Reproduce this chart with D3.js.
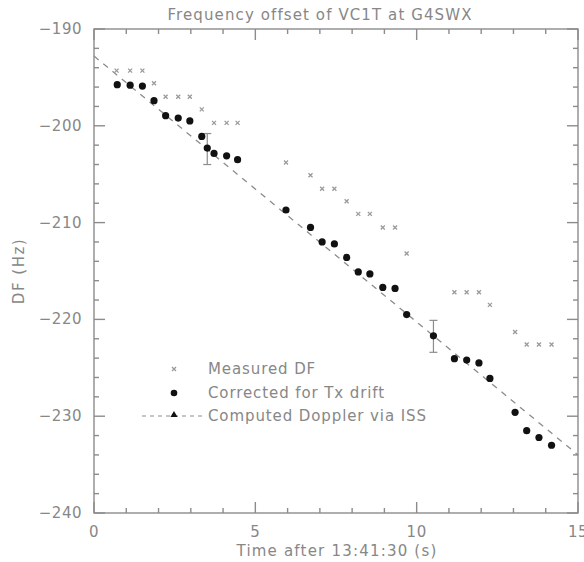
<!DOCTYPE html>
<html>
<head>
<meta charset="utf-8">
<script src="https://cdn.jsdelivr.net/npm/d3@7"></script>
<style>
  body { margin: 0; background: #fff; }
  text { font-family: "DejaVu Sans", sans-serif; fill: #878787; }
  .axis path, .axis line { stroke: #8c8c8c; stroke-width: 1.4; }
</style>
</head>
<body>
<main></main>
<script>
var w = 584;
var h = 562;
var margin = {top: 29, right: 6, bottom: 49, left: 94};

// measured DF (crosses)
var measuredT = [0.70, 1.12, 1.50, 1.86, 2.22, 2.61, 2.97, 3.34, 3.72, 4.11, 4.45, 5.95,
  6.71, 7.07, 7.45, 7.83, 8.19, 8.55, 8.95, 9.33, 9.69,
  11.17, 11.55, 11.93, 12.27, 13.05, 13.41, 13.79, 14.18];
var measuredDF = [-194.3, -194.3, -194.3, -195.6, -197.0, -197.0, -197.0, -198.3, -199.7, -199.7, -199.7, -203.8,
  -205.1, -206.5, -206.5, -207.8, -209.1, -209.1, -210.5, -210.5, -213.2,
  -217.2, -217.2, -217.2, -218.5, -221.3, -222.6, -222.6, -222.6];

// corrected for Tx drift (dots)
var correctedT = [0.72, 1.12, 1.50, 1.86, 2.22, 2.61, 2.97, 3.34, 3.51, 3.72, 4.11, 4.45, 5.95,
  6.71, 7.07, 7.45, 7.83, 8.19, 8.55, 8.95, 9.33, 9.69, 10.52,
  11.17, 11.55, 11.93, 12.27, 13.05, 13.41, 13.79, 14.18];
var correctedDF = [-195.75, -195.8, -195.9, -197.4, -198.95, -199.2, -199.5, -201.1, -202.3, -202.85, -203.1, -203.5, -208.7,
  -210.5, -212.0, -212.2, -213.6, -215.1, -215.3, -216.7, -216.8, -219.5, -221.7,
  -224.06, -224.2, -224.5, -226.1, -229.6, -231.5, -232.2, -233.0];

// error bars
var errT = [3.51, 10.52];
var errLo = [-204.0, -223.4];
var errHi = [-200.8, -220.1];

// computed Doppler via ISS
var dopplerT = [0, 15];
var dopplerDF = [-192.8, -234.0];

var xTicks = [0, 5, 10, 15];
var yTicks = [-190, -200, -210, -220, -230, -240];

var legendLabels = ["Measured DF", "Corrected for Tx drift", "Computed Doppler via ISS"];

var svg = d3.select("main").append("svg").attr("width", w).attr("height", h);

var xScale = d3.scaleLinear().domain([0, 15]).range([margin.left, w - margin.right]);
var yScale = d3.scaleLinear().domain([-240, -190]).range([h - margin.bottom, margin.top]);

var x0 = xScale(0), x1 = xScale(15), y0 = yScale(-240), y1 = yScale(-190);

// frame
svg.append("rect")
  .attr("x", x0).attr("y", y1)
  .attr("width", x1 - x0).attr("height", y0 - y1)
  .attr("fill", "none").attr("stroke", "#8c8c8c").attr("stroke-width", 1.4);

// ticks (inside, all four sides)
var ax = svg.append("g").attr("class", "axis");
d3.range(0, 15.01, 1).forEach(function (t) {
  var len = (t % 5 === 0) ? 11 : 5;
  ax.append("line").attr("x1", xScale(t)).attr("x2", xScale(t)).attr("y1", y0).attr("y2", y0 - len);
  ax.append("line").attr("x1", xScale(t)).attr("x2", xScale(t)).attr("y1", y1).attr("y2", y1 + len);
});
d3.range(-240, -189.99, 2).forEach(function (v) {
  var len = (v % 10 === 0) ? 11 : 5;
  ax.append("line").attr("x1", x0).attr("x2", x0 + len).attr("y1", yScale(v)).attr("y2", yScale(v));
  ax.append("line").attr("x1", x1).attr("x2", x1 - len).attr("y1", yScale(v)).attr("y2", yScale(v));
});

// tick labels
var fmt = d3.format("d");
svg.selectAll("text.xt").data(xTicks).enter().append("text")
  .attr("class", "xt")
  .attr("x", function (d) { return xScale(d); })
  .attr("y", y0 + 24)
  .attr("text-anchor", "middle")
  .attr("font-size", "15px")
  .attr("letter-spacing", "0.5px")
  .text(fmt);
svg.selectAll("text.yt").data(yTicks).enter().append("text")
  .attr("class", "yt")
  .attr("x", x0 - 12)
  .attr("y", function (d) { return yScale(d) + 5; })
  .attr("text-anchor", "end")
  .attr("font-size", "15px")
  .attr("letter-spacing", "0.5px")
  .text(fmt);

// titles
svg.append("text")
  .attr("x", 320).attr("y", 20)
  .attr("text-anchor", "middle").attr("font-size", "15px")
  .attr("letter-spacing", "1.1px")
  .text("Frequency offset of VC1T at G4SWX");
svg.append("text")
  .attr("x", 337).attr("y", 556)
  .attr("text-anchor", "middle").attr("font-size", "15px")
  .attr("letter-spacing", "1.2px")
  .text("Time after 13:41:30 (s)");
svg.append("text")
  .attr("transform", "translate(24," + ((y0 + y1) / 2) + ") rotate(-90)")
  .attr("text-anchor", "middle").attr("font-size", "15px")
  .attr("letter-spacing", "1.5px")
  .text("DF (Hz)");

// computed Doppler line
var line = d3.line()
  .x(function (d, i) { return xScale(dopplerT[i]); })
  .y(function (d) { return yScale(d); });
svg.append("path")
  .datum(dopplerDF)
  .attr("d", line)
  .attr("fill", "none")
  .attr("stroke", "#8c8c8c")
  .attr("stroke-width", 1.3)
  .attr("stroke-dasharray", "6,6");

// error bars
var eb = svg.append("g").attr("stroke", "#8c8c8c").attr("stroke-width", 1.2);
errT.forEach(function (t, i) {
  eb.append("line").attr("x1", xScale(t)).attr("x2", xScale(t)).attr("y1", yScale(errLo[i])).attr("y2", yScale(errHi[i]));
  eb.append("line").attr("x1", xScale(t) - 4).attr("x2", xScale(t) + 4).attr("y1", yScale(errLo[i])).attr("y2", yScale(errLo[i]));
  eb.append("line").attr("x1", xScale(t) - 4).attr("x2", xScale(t) + 4).attr("y1", yScale(errHi[i])).attr("y2", yScale(errHi[i]));
});

// measured crosses
function cross(g, cx, cy) {
  g.append("path")
    .attr("d", "M" + (cx - 2) + "," + (cy - 2) + "L" + (cx + 2) + "," + (cy + 2) +
      "M" + (cx - 2) + "," + (cy + 2) + "L" + (cx + 2) + "," + (cy - 2))
    .attr("stroke", "#9a9a9a").attr("stroke-width", 1.3);
}
var mg = svg.append("g");
measuredDF.forEach(function (v, i) { cross(mg, xScale(measuredT[i]), yScale(v)); });

// corrected dots
svg.selectAll("circle.corr").data(correctedDF).enter().append("circle")
  .attr("class", "corr")
  .attr("cx", function (d, i) { return xScale(correctedT[i]); })
  .attr("cy", function (d) { return yScale(d); })
  .attr("r", 3.6)
  .attr("fill", "#111");

// legend
var lx = 174, ly = [369, 393, 416];
cross(svg, lx, ly[0]);
svg.append("circle").attr("cx", lx).attr("cy", ly[1]).attr("r", 3.3).attr("fill", "#111");
svg.append("line").attr("x1", 142).attr("x2", 206).attr("y1", ly[2]).attr("y2", ly[2])
  .attr("stroke", "#8c8c8c").attr("stroke-width", 1.2).attr("stroke-dasharray", "4,4");
svg.append("path")
  .attr("d", d3.symbol().type(d3.symbolTriangle).size(22)())
  .attr("transform", "translate(" + lx + "," + (ly[2] - 1) + ")")
  .attr("fill", "#111");
legendLabels.forEach(function (s, i) {
  svg.append("text")
    .attr("x", 208).attr("y", ly[i] + 5)
    .attr("font-size", "15px")
    .attr("letter-spacing", "0.9px")
    .text(s);
});
</script>
</body>
</html>
